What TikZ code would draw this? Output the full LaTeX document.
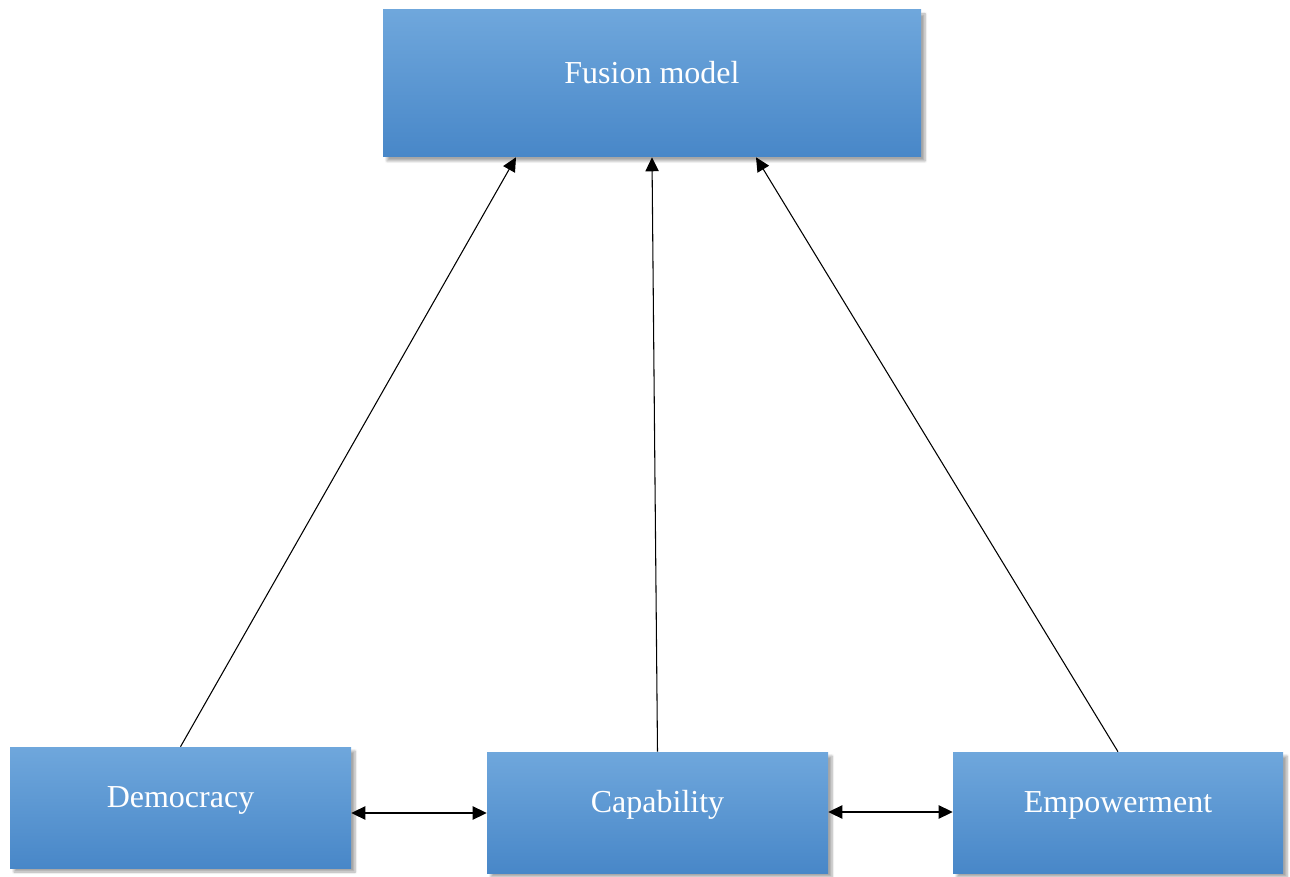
\documentclass[tikz,border=0pt]{standalone}
\usepackage{fontspec}
\setmainfont{Liberation Serif}
\usetikzlibrary{arrows.meta,shadows.blur}
\definecolor{btop}{HTML}{6FA7DC}
\definecolor{bmid}{HTML}{5599DB}
\definecolor{bbot}{HTML}{4887C8}
\tikzset{
  box/.style={rectangle, draw=none, inner sep=0pt, top color=btop, middle color=bmid, bottom color=bbot,
    blur shadow={shadow xshift=3pt, shadow yshift=-3pt, shadow blur steps=5, shadow opacity=35}},
  lab/.style={text=white, font=\fontsize{24}{28}\selectfont, yshift=5.5pt},
  conn/.style={line width=0.8pt, -{Triangle[length=10.5pt,width=10pt]}},
  dconn/.style={line width=0.8pt, {Triangle[length=10.5pt,width=10pt]}-{Triangle[length=10.5pt,width=10pt]}}
}
\begin{document}
\begin{tikzpicture}[x=0.75pt,y=-0.75pt]
\useasboundingbox (0,0) rectangle (1290,877);
\node[box, minimum width=403.5pt, minimum height=110.25pt] (fus) at (652,83.5) {};
\node[box, minimum width=255.75pt, minimum height=90.75pt] (dem) at (180.5,807.5) {};
\node[box, minimum width=255.75pt, minimum height=90.75pt] (cap) at (657.5,812.5) {};
\node[box, minimum width=247.5pt, minimum height=90.75pt] (emp) at (1118,812.5) {};
\node[lab, yshift=3pt] (fust) at (fus.center) {Fusion model};
\node[lab] (demt) at (dem.center) {Democracy};
\node[lab] (capt) at (cap.center) {Capability};
\node[lab] (empt) at (emp.center) {Empowerment};
\draw[conn] (dem.north) -- ([xshift=-102pt]fus.south);
\draw[conn] (cap.north) -- (fus.south);
\draw[conn] (emp.north) -- ([xshift=78pt]fus.south);
\draw[dconn] (dem.east |- 0,813) -- (cap.west |- 0,813);
\draw[dconn] (cap.east |- 0,812) -- (emp.west |- 0,812);
\end{tikzpicture}
\end{document}
